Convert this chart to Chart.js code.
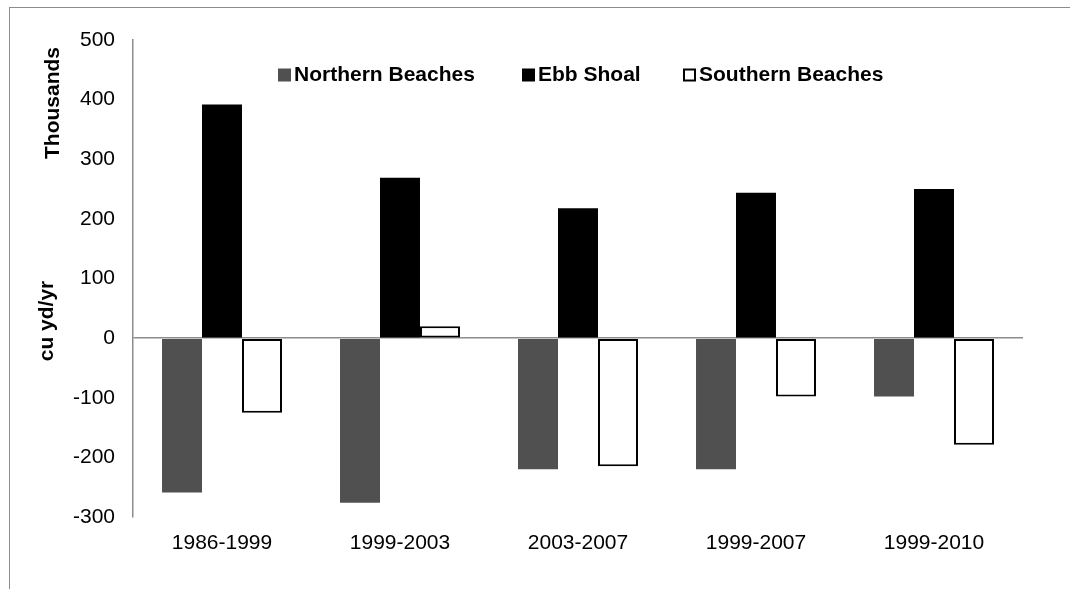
<!DOCTYPE html>
<html>
<head>
<meta charset="utf-8">
<script src="https://cdn.jsdelivr.net/npm/chart.js@4.4.1/dist/chart.umd.min.js"></script>
<style>
    body { margin: 0; background: #fff; }
    #wrap { position: relative; width: 1070px; height: 589px; overflow: hidden; }
    #frame { position: absolute; left: 9px; top: 7px; width: 1100px; height: 600px; border-left: 1px solid #8c8c8c; border-top: 1px solid #8c8c8c; pointer-events: none; }
</style>
</head>
<body>
<div id="wrap">
    <canvas id="sandChart" width="1070" height="589"></canvas>
    <div id="frame"></div>
</div>
<script>
// Data (thousands cu yd/yr)
const periods = ['1986-1999', '1999-2003', '2003-2007', '1999-2007', '1999-2010'];
const northernBeaches = [-259, -276, -220, -220, -98];
const ebbShoal = [392, 269, 218, 244, 250];
const southernBeaches = [-125, 20, -215, -98, -179];
const yTicks = [-300, -200, -100, 0, 100, 200, 300, 400, 500];

const FONT = 'Arial, "Liberation Sans", sans-serif';

// Legend + axis titles drawn at Excel-like spots
const extrasPlugin = {
    id: 'extras',
    afterDraw(chart) {
        const ctx = chart.ctx;
        ctx.save();
        ctx.fillStyle = '#000';
        ctx.font = 'bold 21px ' + FONT;
        ctx.textAlign = 'center';
        ctx.textBaseline = 'middle';
        // rotated titles
        ctx.save();
        ctx.translate(53, 103);
        ctx.rotate(-Math.PI / 2);
        ctx.fillText('Thousands', 0, 0);
        ctx.restore();
        ctx.save();
        ctx.translate(47, 321);
        ctx.rotate(-Math.PI / 2);
        ctx.fillText('cu yd/yr', 0, 0);
        ctx.restore();

        // legend
        const items = [
            { x: 278, ds: chart.data.datasets[0] },
            { x: 522, ds: chart.data.datasets[1] },
            { x: 683, ds: chart.data.datasets[2] }
        ];
        ctx.textAlign = 'left';
        items.forEach(it => {
            const y = 75;
            if (it.ds.borderWidth > 0) {
                ctx.fillStyle = '#fff';
                ctx.fillRect(it.x, y - 6.5, 13, 13);
                ctx.strokeStyle = it.ds.borderColor;
                ctx.lineWidth = 2;
                ctx.strokeRect(it.x + 1, y - 5.5, 11, 11);
            } else {
                ctx.fillStyle = it.ds.backgroundColor;
                ctx.fillRect(it.x, y - 6.5, 13, 13);
            }
            ctx.fillStyle = '#000';
            ctx.fillText(it.ds.label, it.x + 16, y);
        });
        ctx.restore();
    }
};

new Chart(document.getElementById('sandChart'), {
    type: 'bar',
    data: {
        labels: periods,
        datasets: [
            { label: 'Northern Beaches', data: northernBeaches, backgroundColor: '#505050', borderWidth: 0 },
            { label: 'Ebb Shoal', data: ebbShoal, backgroundColor: '#000000', borderWidth: 0 },
            { label: 'Southern Beaches', data: southernBeaches, backgroundColor: '#ffffff', borderColor: '#000000', borderWidth: 2, borderSkipped: false }
        ]
    },
    options: {
        responsive: false,
        animation: false,
        layout: { padding: { left: 0, right: 47, top: 40, bottom: 0 } },
        datasets: { bar: { categoryPercentage: 0.674, barPercentage: 1.0 } },
        plugins: {
            legend: { display: false },
            tooltip: { enabled: false }
        },
        scales: {
            x: {
                grid: { display: false, drawTicks: false },
                border: { display: false },
                ticks: { color: '#000', font: { family: FONT, size: 21 }, padding: 14, maxRotation: 0 },
                afterFit: scale => { scale.height = 72; }
            },
            y: {
                min: -300,
                max: 500,
                z: 1,
                afterBuildTicks: scale => { scale.ticks = yTicks.map(v => ({ value: v })); },
                grid: {
                    drawTicks: false,
                    color: c => (c.tick && c.tick.value === 0) ? '#8c8c8c' : 'rgba(0,0,0,0)',
                    lineWidth: 1.5
                },
                border: { display: true, color: '#8c8c8c', width: 1.5 },
                ticks: { color: '#000', font: { family: FONT, size: 21 }, padding: 18 },
                afterFit: scale => { scale.width = 133; }
            }
        }
    },
    plugins: [extrasPlugin]
});
</script>
</body>
</html>
